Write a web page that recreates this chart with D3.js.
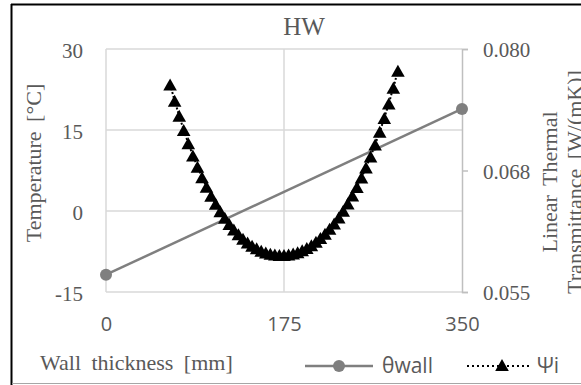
<!DOCTYPE html>
<html>
<head>
<meta charset="utf-8">
<script src="https://cdn.jsdelivr.net/npm/d3@7"></script>
<style>
  html, body { margin: 0; padding: 0; background: #fff; }
  svg { display: block; }
  .serif { font-family: "Liberation Serif", "DejaVu Serif", serif; fill: #595959; }
  .sans { font-family: "Open Sans", "Liberation Sans", sans-serif; fill: #595959; }
</style>
</head>
<body>
<svg id="chart" width="581" height="385"></svg>
<script>
// ---- data ----
const chartTitle = "HW";
const xTickValues = [0, 175, 350];
const yLeftTicks = [-15, 0, 15, 30];
const yLeftTickLabels = ["-15", "0", "15", "30"];
const yRightTicks = [0.055, 0.0675, 0.080];
const yRightTickLabels = ["0.055", "0.068", "0.080"];

const wallX = [0, 350];
const thetaWall = [-11.8, 18.9];

const psiX = [63.0, 67.5, 72.0, 76.4, 80.9, 85.4, 89.9, 94.4, 98.8, 103.3,
  107.8, 112.3, 116.8, 121.2, 125.7, 130.2, 134.7, 139.2, 143.6, 148.1,
  152.6, 157.1, 161.6, 166.0, 170.5, 175.0, 179.5, 184.0, 188.4, 192.9,
  197.4, 201.9, 206.4, 210.8, 215.3, 219.8, 224.3, 228.8, 233.2, 237.7,
  242.2, 246.7, 251.2, 255.6, 260.1, 264.6, 269.1, 273.6, 278.0, 282.5, 287.0];
const psiValues = [0.07636, 0.07468, 0.07312, 0.07166, 0.07031, 0.06905, 0.06789, 0.06681, 0.06582, 0.06491,
  0.06408, 0.06332, 0.06263, 0.06200, 0.06144, 0.06094, 0.06049, 0.06010, 0.05977, 0.05949,
  0.05925, 0.05907, 0.05894, 0.05885, 0.05881, 0.05881, 0.05886, 0.05896, 0.05910, 0.05929,
  0.05953, 0.05982, 0.06016, 0.06055, 0.06100, 0.06150, 0.06205, 0.06267, 0.06335, 0.06410,
  0.06492, 0.06581, 0.06677, 0.06782, 0.06895, 0.07017, 0.07148, 0.07289, 0.07440, 0.07602, 0.07776];

// ---- layout ----
const svg = d3.select("#chart");
const x = d3.scaleLinear().domain([0, 350]).range([106, 462]);
const yL = d3.scaleLinear().domain([-15, 30]).range([292, 49]);
const yR = d3.scaleLinear().domain([0.055, 0.080]).range([292, 49]);

// border
svg.append("line").attr("x1", 11.5).attr("x2", 11.5).attr("y1", 4).attr("y2", 385)
  .attr("stroke", "#000").attr("stroke-width", 2);
svg.append("line").attr("x1", 11).attr("x2", 581).attr("y1", 4.5).attr("y2", 4.5)
  .attr("stroke", "#000").attr("stroke-width", 2);
svg.append("line").attr("x1", 12).attr("x2", 581).attr("y1", 383.5).attr("y2", 383.5)
  .attr("stroke", "#a6a6a6").attr("stroke-width", 1);

// gridlines
const grid = svg.append("g");
grid.selectAll("line.h").data(yLeftTicks).join("line")
  .attr("x1", x(0)).attr("x2", x(350))
  .attr("y1", d => yL(d)).attr("y2", d => yL(d))
  .attr("stroke", "#d9d9d9").attr("stroke-width", 1.5);
grid.selectAll("line.v").data(xTickValues.slice(0, 2)).join("line")
  .attr("x1", d => x(d)).attr("x2", d => x(d))
  .attr("y1", yL(30)).attr("y2", yL(-15))
  .attr("stroke", "#d9d9d9").attr("stroke-width", 1.5);

// right axis
const rAxis = svg.append("g").attr("transform", `translate(${x(350)},0)`)
  .call(d3.axisRight(yR).tickValues(yRightTicks).tickSize(6)
    .tickFormat((d, i) => yRightTickLabels[i]));
rAxis.select(".domain").attr("stroke", "#bfbfbf").attr("stroke-width", 1.5);
rAxis.selectAll(".tick line").attr("stroke", "#bfbfbf").attr("stroke-width", 1.5);
rAxis.selectAll(".tick text").attr("class", "serif").attr("x", 21).attr("dy", "0.36em")
  .attr("font-size", 21).attr("text-anchor", "start");

// left axis
const lAxis = svg.append("g").attr("transform", `translate(${x(0)},0)`)
  .call(d3.axisLeft(yL).tickValues(yLeftTicks).tickSize(0)
    .tickFormat((d, i) => yLeftTickLabels[i]));
lAxis.select(".domain").remove();
lAxis.selectAll(".tick text").attr("class", "serif").attr("x", -23).attr("dy", "0.42em")
  .attr("font-size", 21);

// bottom axis
const bAxis = svg.append("g").attr("transform", `translate(0,${yL(-15)})`)
  .call(d3.axisBottom(x).tickValues(xTickValues).tickSize(0).tickFormat(d3.format("d")));
bAxis.select(".domain").remove();
bAxis.selectAll(".tick text").attr("class", "sans").attr("y", 25).attr("dy", "0.71em")
  .attr("font-size", 20);

// theta wall series
const lineL = d3.line().x((d, i) => x(wallX[i])).y(d => yL(d));
svg.append("path").datum(thetaWall).attr("d", lineL)
  .attr("fill", "none").attr("stroke", "#7f7f7f").attr("stroke-width", 2.5);
svg.selectAll("circle.tw").data(thetaWall).join("circle")
  .attr("cx", (d, i) => x(wallX[i])).attr("cy", d => yL(d)).attr("r", 6)
  .attr("fill", "#7f7f7f");

// psi series
const tri = "M0,-6L6.8,6L-6.8,6Z";
const lineR = d3.line().x((d, i) => x(psiX[i])).y(d => yR(d));
svg.append("path").datum(psiValues).attr("d", lineR)
  .attr("fill", "none").attr("stroke", "#000").attr("stroke-width", 2)
  .attr("stroke-dasharray", "2,2");
svg.selectAll("path.psi").data(psiValues).join("path")
  .attr("d", tri)
  .attr("transform", (d, i) => `translate(${x(psiX[i])},${yR(d)})`)
  .attr("fill", "#000");

// title
svg.append("text").attr("class", "serif").attr("x", 304).attr("y", 35)
  .attr("text-anchor", "middle").attr("font-size", 25).text(chartTitle);

// axis titles
svg.append("text").attr("class", "serif").attr("font-size", 22)
  .attr("word-spacing", 4)
  .attr("transform", "translate(41,163) rotate(-90)")
  .attr("text-anchor", "middle").text("Temperature [°C]");
svg.append("text").attr("class", "serif").attr("font-size", 22)
  .attr("x", 40).attr("y", 370).attr("word-spacing", 5).text("Wall thickness [mm]");
svg.append("text").attr("class", "serif").attr("font-size", 22)
  .attr("word-spacing", 4)
  .attr("transform", "translate(557,182) rotate(-90)")
  .attr("text-anchor", "middle").text("Linear Thermal");
svg.append("text").attr("class", "serif").attr("font-size", 22)
  .attr("word-spacing", 4)
  .attr("transform", "translate(582,182) rotate(-90)")
  .attr("text-anchor", "middle").text("Transmittance [W/(mK)]");

// legend
const leg = svg.append("g");
leg.append("line").attr("x1", 305).attr("x2", 373).attr("y1", 366).attr("y2", 366)
  .attr("stroke", "#7f7f7f").attr("stroke-width", 2.5);
leg.append("circle").attr("cx", 339).attr("cy", 366).attr("r", 6).attr("fill", "#7f7f7f");
leg.append("text").attr("class", "sans").attr("x", 382).attr("y", 373)
  .attr("font-size", 21).text("θwall");
leg.append("line").attr("x1", 467).attr("x2", 531).attr("y1", 366).attr("y2", 366)
  .attr("stroke", "#000").attr("stroke-width", 2).attr("stroke-dasharray", "2,3");
leg.append("path").attr("d", tri).attr("transform", "translate(502,365)").attr("fill", "#000");
leg.append("text").attr("class", "sans").attr("x", 537).attr("y", 373)
  .attr("font-size", 21).text("Ψi");
</script>
</body>
</html>
